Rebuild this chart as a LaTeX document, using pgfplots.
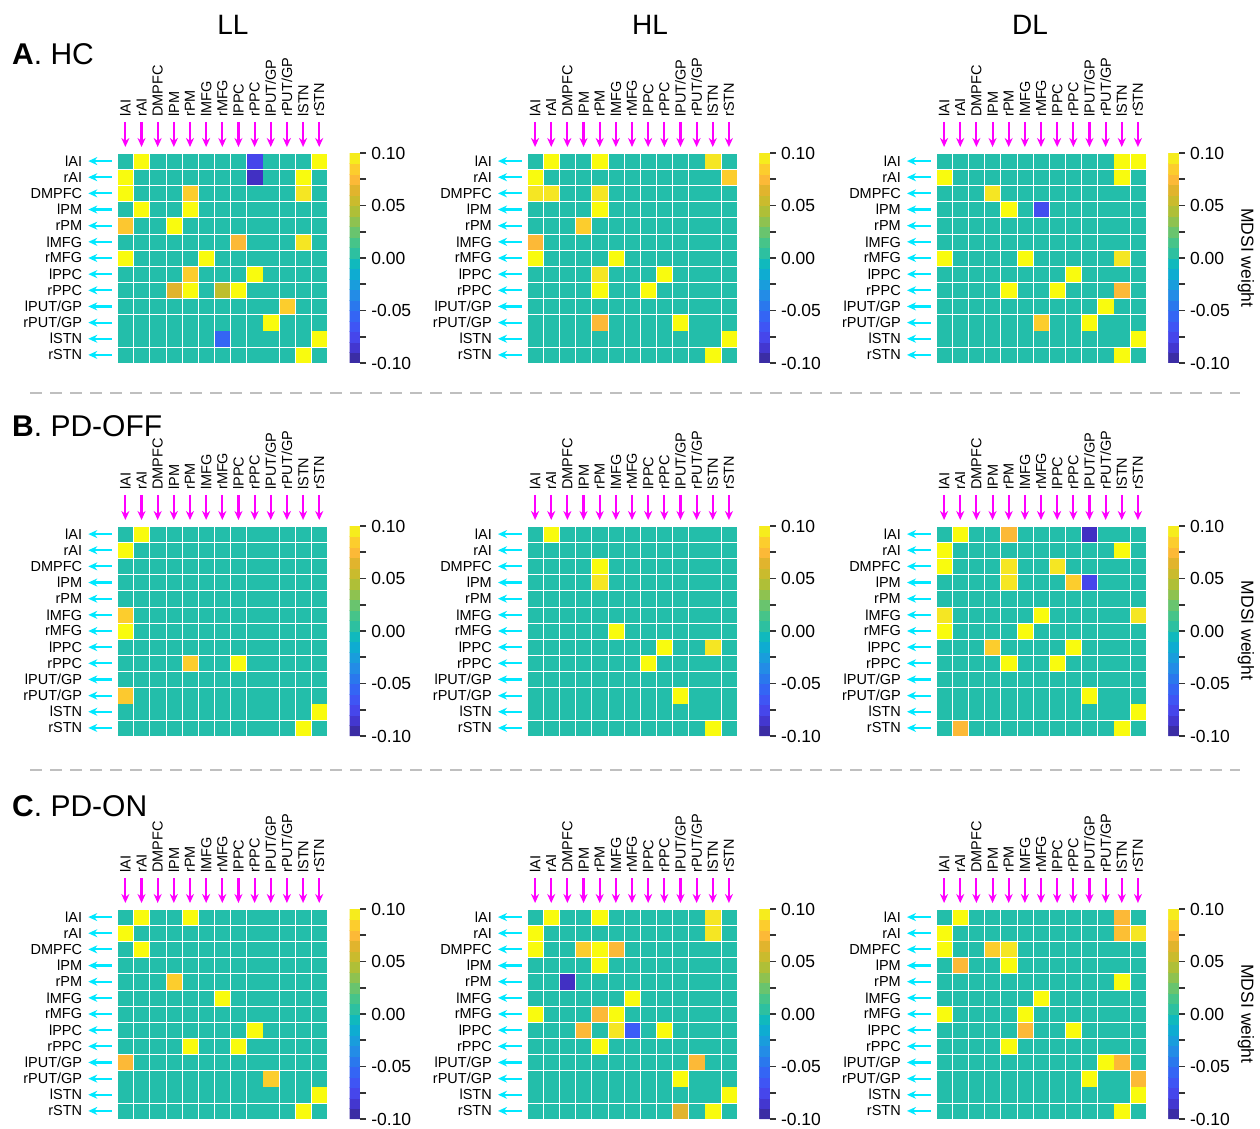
\documentclass[border=0pt]{standalone}
\usepackage{fontspec}
\setmainfont{Liberation Sans}
\usepackage{pgfplots}
\usepackage{pgfplotstable}
\pgfplotsset{compat=1.18}
\usetikzlibrary{arrows.meta}

\definecolor{arrcyan}{RGB}{0,232,255}
\definecolor{arrmag}{RGB}{255,0,255}

\pgfplotsset{
 colormap={mdsi}{rgb255(0pt)=(53,42,135); rgb255(10pt)=(65,48,195); rgb255(25pt)=(70,70,235); rgb255(40pt)=(60,92,248); rgb255(50pt)=(45,110,240); rgb255(65pt)=(35,140,230); rgb255(80pt)=(20,165,215); rgb255(92pt)=(5,182,200); rgb255(100pt)=(35,190,170); rgb255(110pt)=(55,195,150); rgb255(120pt)=(85,197,125); rgb255(130pt)=(125,196,95); rgb255(140pt)=(160,193,65); rgb255(150pt)=(190,190,45); rgb255(165pt)=(225,180,45); rgb255(175pt)=(252,185,55); rgb255(185pt)=(252,205,45); rgb255(193pt)=(245,230,35); rgb255(200pt)=(249,251,14)},
}

\newcommand{\lab}{\fontsize{14.5}{16}\selectfont}
\newcommand{\tlab}{\fontsize{17.5}{20}\selectfont}

% ---------------- data: rows = lAI ... rSTN, columns c1..c13 = lAI ... rSTN
% A. HC, LL
\pgfplotstableread{
c1 c2 c3 c4 c5 c6 c7 c8 c9 c10 c11 c12 c13
0 0.1 0 0 0 0 0 0 -0.075 0 0 0 0.1
0.1 0 0 0 0 0 0 0 -0.09 0 0 0.1 0
0.1 0 0 0 0.085 0 0 0 0 0 0 0.093 0
0 0.1 0 0 0.1 0 0 0 0 0 0 0 0
0.082 0 0 0.1 0 0 0 0 0 0 0 0 0
0 0 0 0 0 0 0 0.075 0 0 0 0.093 0
0.1 0 0 0 0 0.1 0 0 0 0 0 0 0
0 0 0 0 0.085 0 0 0 0.1 0 0 0 0
0 0 0 0.065 0.1 0 0.05 0.1 0 0 0 0 0
0 0 0 0 0 0 0 0 0 0 0.085 0 0
0 0 0 0 0 0 0 0 0 0.1 0 0 0
0 0 0 0 0 0 -0.055 0 0 0 0 0 0.1
0 0 0 0 0 0 0 0 0 0 0 0.1 0
}\mAA
% A. HC, HL
\pgfplotstableread{
c1 c2 c3 c4 c5 c6 c7 c8 c9 c10 c11 c12 c13
0 0.1 0 0 0.1 0 0 0 0 0 0 0.093 0
0.1 0 0 0 0 0 0 0 0 0 0 0 0.085
0.093 0.093 0 0 0.093 0 0 0 0 0 0 0 0
0 0 0 0 0.1 0 0 0 0 0 0 0 0
0 0 0 0.085 0 0 0 0 0 0 0 0 0
0.075 0 0 0 0 0 0 0 0 0 0 0 0
0.1 0 0 0 0 0.1 0 0 0 0 0 0 0
0 0 0 0 0.093 0 0 0 0.1 0 0 0 0
0 0 0 0 0.1 0 0 0.1 0 0 0 0 0
0 0 0 0 0 0 0 0 0 0 0 0 0
0 0 0 0 0.075 0 0 0 0 0.1 0 0 0
0 0 0 0 0 0 0 0 0 0 0 0 0.1
0 0 0 0 0 0 0 0 0 0 0 0.1 0
}\mAB
% A. HC, DL
\pgfplotstableread{
c1 c2 c3 c4 c5 c6 c7 c8 c9 c10 c11 c12 c13
0 0 0 0 0 0 0 0 0 0 0 0.1 0.1
0.1 0 0 0 0 0 0 0 0 0 0 0.1 0
0 0 0 0.093 0 0 0 0 0 0 0 0 0
0 0 0 0 0.1 0 -0.07 0 0 0 0 0 0
0 0 0 0 0 0 0 0 0 0 0 0 0
0 0 0 0 0 0 0 0 0 0 0 0 0
0.1 0 0 0 0 0.1 0 0 0 0 0 0.093 0
0 0 0 0 0 0 0 0 0.1 0 0 0 0
0 0 0 0 0.1 0 0 0.1 0 0 0 0.075 0
0 0 0 0 0 0 0 0 0 0 0.1 0 0
0 0 0 0 0 0 0.085 0 0 0.1 0 0 0
0 0 0 0 0 0 0 0 0 0 0 0 0.1
0 0 0 0 0 0 0 0 0 0 0 0.1 0
}\mAC
% B. PD-OFF, LL
\pgfplotstableread{
c1 c2 c3 c4 c5 c6 c7 c8 c9 c10 c11 c12 c13
0 0.1 0 0 0 0 0 0 0 0 0 0 0
0.1 0 0 0 0 0 0 0 0 0 0 0 0
0 0 0 0 0 0 0 0 0 0 0 0 0
0 0 0 0 0 0 0 0 0 0 0 0 0
0 0 0 0 0 0 0 0 0 0 0 0 0
0.085 0 0 0 0 0 0 0 0 0 0 0 0
0.1 0 0 0 0 0 0 0 0 0 0 0 0
0 0 0 0 0 0 0 0 0 0 0 0 0
0 0 0 0 0.085 0 0 0.1 0 0 0 0 0
0 0 0 0 0 0 0 0 0 0 0 0 0
0.083 0 0 0 0 0 0 0 0 0 0 0 0
0 0 0 0 0 0 0 0 0 0 0 0 0.1
0 0 0 0 0 0 0 0 0 0 0 0.1 0
}\mBA
% B. PD-OFF, HL
\pgfplotstableread{
c1 c2 c3 c4 c5 c6 c7 c8 c9 c10 c11 c12 c13
0 0.1 0 0 0 0 0 0 0 0 0 0 0
0 0 0 0 0 0 0 0 0 0 0 0 0
0 0 0 0 0.1 0 0 0 0 0 0 0 0
0 0 0 0 0.093 0 0 0 0 0 0 0 0
0 0 0 0 0 0 0 0 0 0 0 0 0
0 0 0 0 0 0 0 0 0 0 0 0 0
0 0 0 0 0 0.1 0 0 0 0 0 0 0
0 0 0 0 0 0 0 0 0.1 0 0 0.093 0
0 0 0 0 0 0 0 0.1 0 0 0 0 0
0 0 0 0 0 0 0 0 0 0 0 0 0
0 0 0 0 0 0 0 0 0 0.1 0 0 0
0 0 0 0 0 0 0 0 0 0 0 0 0
0 0 0 0 0 0 0 0 0 0 0 0.1 0
}\mBB
% B. PD-OFF, DL
\pgfplotstableread{
c1 c2 c3 c4 c5 c6 c7 c8 c9 c10 c11 c12 c13
0 0.1 0 0 0.075 0 0 0 0 -0.09 0 0 0
0.1 0 0 0 0 0 0 0 0 0 0 0.1 0
0.1 0 0 0 0.093 0 0 0.093 0 0 0 0 0
0 0 0 0 0.093 0 0 0 0.085 -0.075 0 0 0
0 0 0 0 0 0 0 0 0 0 0 0 0
0.093 0 0 0 0 0 0.1 0 0 0 0 0 0.093
0.1 0 0 0 0 0.1 0 0 0 0 0 0 0
0 0 0 0.085 0 0 0 0 0.1 0 0 0 0
0 0 0 0 0.1 0 0 0.1 0 0 0 0 0
0 0 0 0 0 0 0 0 0 0 0 0 0
0 0 0 0 0 0 0 0 0 0.1 0 0 0
0 0 0 0 0 0 0 0 0 0 0 0 0.1
0 0.075 0 0 0 0 0 0 0 0 0 0.1 0
}\mBC
% C. PD-ON, LL
\pgfplotstableread{
c1 c2 c3 c4 c5 c6 c7 c8 c9 c10 c11 c12 c13
0 0.1 0 0 0.1 0 0 0 0 0 0 0 0
0.1 0 0 0 0 0 0 0 0 0 0 0 0
0 0.1 0 0 0 0 0 0 0 0 0 0 0
0 0 0 0 0 0 0 0 0 0 0 0 0
0 0 0 0.085 0 0 0 0 0 0 0 0 0
0 0 0 0 0 0 0.1 0 0 0 0 0 0
0 0 0 0 0 0 0 0 0 0 0 0 0
0 0 0 0 0 0 0 0 0.1 0 0 0 0
0 0 0 0 0.1 0 0 0.1 0 0 0 0 0
0.075 0 0 0 0 0 0 0 0 0 0 0 0
0 0 0 0 0 0 0 0 0 0.085 0 0 0
0 0 0 0 0 0 0 0 0 0 0 0 0.1
0 0 0 0 0 0 0 0 0 0 0 0.1 0
}\mCA
% C. PD-ON, HL
\pgfplotstableread{
c1 c2 c3 c4 c5 c6 c7 c8 c9 c10 c11 c12 c13
0 0.1 0 0 0.1 0 0 0 0 0 0 0.093 0
0.1 0 0 0 0 0 0 0 0 0 0 0.093 0
0.1 0 0 0.085 0.1 0.075 0 0 0 0 0 0 0
0 0 0 0 0.1 0 0 0 0 0 0 0 0
0 0 -0.09 0 0 0 0 0 0 0 0 0 0
0 0 0 0 0 0 0.1 0 0 0 0 0 0
0.1 0 0 0 0.075 0.1 0 0 0 0 0 0 0
0 0 0 0.075 0 0.093 -0.06 0 0.1 0 0 0 0
0 0 0 0 0.1 0 0 0 0 0 0 0 0
0 0 0 0 0 0 0 0 0 0 0.075 0 0
0 0 0 0 0 0 0 0 0 0.1 0 0 0
0 0 0 0 0 0 0 0 0 0 0 0 0.1
0 0 0 0 0 0 0 0 0 0.065 0 0.1 0
}\mCB
% C. PD-ON, DL
\pgfplotstableread{
c1 c2 c3 c4 c5 c6 c7 c8 c9 c10 c11 c12 c13
0 0.1 0 0 0 0 0 0 0 0 0 0.075 0
0.1 0 0 0 0 0 0 0 0 0 0 0.078 0.093
0.1 0 0 0.085 0.093 0 0 0 0 0 0 0 0
0 0.075 0 0 0.1 0 0 0 0 0 0 0 0
0 0 0 0 0 0 0 0 0 0 0 0.1 0
0 0 0 0 0 0 0.1 0 0 0 0 0 0
0.1 0 0 0 0 0.1 0 0 0 0 0 0 0
0 0 0 0 0 0.075 0 0 0.1 0 0 0 0
0 0 0 0 0.1 0 0 0 0 0 0 0 0
0 0 0 0 0 0 0 0 0 0 0.1 0.075 0
0 0 0 0 0 0 0 0 0 0.1 0 0 0.075
0 0 0 0 0 0 0 0 0 0 0 0 0.1
0 0 0 0 0 0 0 0 0 0 0 0.1 0
}\mCC

\pgfplotsset{heat/.style={
  anchor=north west, scale only axis, width=210pt, height=210pt,
  xmin=0.5, xmax=13.5, ymin=0.5, ymax=13.5,
  axis line style={draw=none}, major tick length=0pt, minor tick length=0pt,
  xtick={1,...,13}, ytick={1,...,13},
  xticklabels={lAI,rAI,DMPFC,lPM,rPM,lMFG,rMFG,lPPC,rPPC,lPUT/GP,rPUT/GP,lSTN,rSTN},
  yticklabels={rSTN,lSTN,rPUT/GP,lPUT/GP,rPPC,lPPC,rMFG,lMFG,rPM,lPM,DMPFC,rAI,lAI},
  xticklabel pos=right, xtick pos=right, yticklabel pos=left, ytick pos=left,
  xticklabel style={rotate=90, anchor=west, font=\lab, inner sep=0pt},
  yticklabel style={anchor=east, font=\lab, inner sep=0pt},
  xticklabel shift=36pt, yticklabel shift=35pt,
  clip=false,
  colormap name=mdsi, point meta min=-0.1, point meta max=0.1,
  colorbar sampled,
  colorbar style={
    at={(parent axis.north east)}, anchor=north west, xshift=13.8pt,
    scale only axis, width=10.5pt, height=210pt,
    samples=21,
    ytick={-0.1,-0.05,0,0.05,0.1},
    minor ytick={-0.075,-0.025,0.025,0.075},
    scaled y ticks=false,
    ytick pos=right, yticklabel pos=right,
    ytick align=outside,
    major tick length=6pt, minor tick length=6pt,
    tick style={draw=black!80, line width=1.6pt},
    axis line style={draw=none},
    yticklabel style={font=\tlab, anchor=west, inner sep=0pt,
      /pgf/number format/.cd, fixed, fixed zerofill, precision=2, assume math mode=true},
    yticklabel shift=5pt,
  },
}}

\newcommand{\heat}[3]{%
\begin{axis}[heat, at={(#1pt,#2pt)}]
\pgfplotsinvokeforeach{1,...,13}{%
  \addplot[scatter, only marks, mark=square*, mark size=7.1pt, point meta=explicit,
    scatter/use mapped color={draw=mapped color, fill=mapped color}]
    table[x expr=##1, y expr=13-\coordindex, meta=c##1] {#3};
  \draw[arrmag, line width=2.1pt, -{Stealth[length=9pt,width=8pt]}]
    ([yshift=31pt]axis cs:##1,13.5) -- ([yshift=6pt]axis cs:##1,13.5);
  \draw[arrcyan, line width=2.1pt, -{Stealth[length=9pt,width=8pt]}]
    ([xshift=-5.5pt]axis cs:0.5,##1) -- ([xshift=-29pt]axis cs:0.5,##1);
}
\end{axis}}

\begin{document}
\begin{tikzpicture}[x=1pt,y=1pt]
\useasboundingbox (0,0) rectangle (1260,1128);

% column headings
\node[font=\fontsize{28}{32}\selectfont] at (233,1103) {LL};
\node[font=\fontsize{28}{32}\selectfont] at (650,1103) {HL};
\node[font=\fontsize{28}{32}\selectfont] at (1030,1103) {DL};

% panel labels
\node[anchor=west, font=\fontsize{30}{34}\selectfont, inner sep=0pt] at (12,1074) {\textbf{A}. HC};
\node[anchor=west, font=\fontsize{30}{34}\selectfont, inner sep=0pt] at (12,702) {\textbf{B}. PD-OFF};
\node[anchor=west, font=\fontsize{30}{34}\selectfont, inner sep=0pt] at (12,322) {\textbf{C}. PD-ON};

% separators
\draw[black!25, line width=2pt, dash pattern=on 12pt off 8pt] (30,735) -- (1240,735);
\draw[black!25, line width=2pt, dash pattern=on 12pt off 8pt] (30,358) -- (1240,358);

% heatmaps
\heat{117.3}{975}{\mAA}
\heat{527}{975}{\mAB}
\heat{936}{975}{\mAC}
\heat{117.3}{602}{\mBA}
\heat{527}{602}{\mBB}
\heat{936}{602}{\mBC}
\heat{117.3}{219}{\mCA}
\heat{527}{219}{\mCB}
\heat{936}{219}{\mCC}

% colorbar titles
\node[rotate=-90, font=\tlab] at (1246,870) {MDSI weight};
\node[rotate=-90, font=\tlab] at (1246,497.5) {MDSI weight};
\node[rotate=-90, font=\tlab] at (1246,114) {MDSI weight};
\end{tikzpicture}
\end{document}
